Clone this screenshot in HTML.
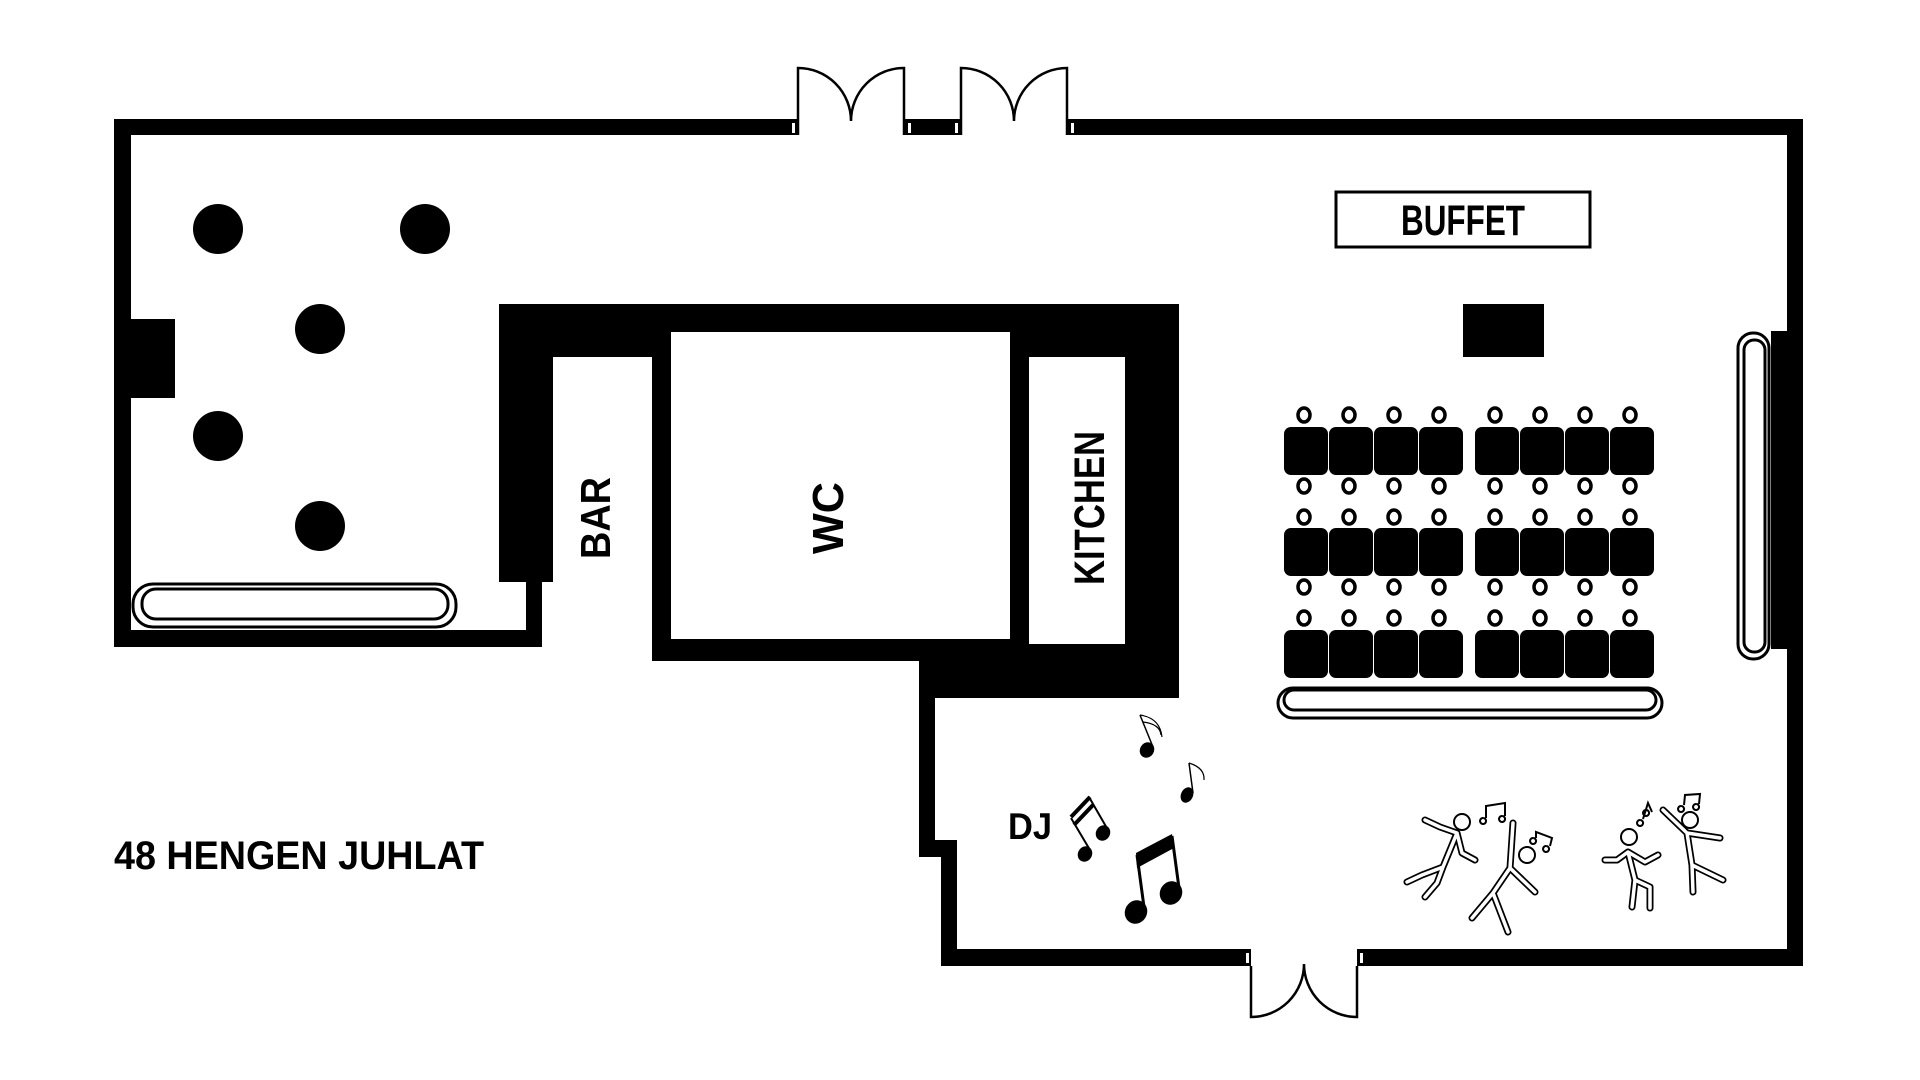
<!DOCTYPE html>
<html><head><meta charset="utf-8"><style>html,body{margin:0;padding:0;background:#fff}svg{display:block}</style></head>
<body>
<svg width="1920" height="1080" viewBox="0 0 1920 1080" xmlns="http://www.w3.org/2000/svg" font-family="Liberation Sans, sans-serif" font-weight="bold">
<defs>
<g id="row" fill="#000">
<rect x="1284" y="0" width="44" height="48" rx="7"/><rect x="1329" y="0" width="44" height="48" rx="7"/><rect x="1374" y="0" width="44" height="48" rx="7"/><rect x="1419" y="0" width="44" height="48" rx="7"/>
<rect x="1475" y="0" width="44" height="48" rx="7"/><rect x="1520" y="0" width="44" height="48" rx="7"/><rect x="1565" y="0" width="44" height="48" rx="7"/><rect x="1610" y="0" width="44" height="48" rx="7"/>
</g>
<g id="chairs" fill="none" stroke="#000" stroke-width="3.5">
<ellipse cx="1304" cy="0" rx="6" ry="7"/><ellipse cx="1349" cy="0" rx="6" ry="7"/><ellipse cx="1394" cy="0" rx="6" ry="7"/><ellipse cx="1439" cy="0" rx="6" ry="7"/>
<ellipse cx="1495" cy="0" rx="6" ry="7"/><ellipse cx="1540" cy="0" rx="6" ry="7"/><ellipse cx="1585" cy="0" rx="6" ry="7"/><ellipse cx="1630" cy="0" rx="6" ry="7"/>
</g>
<path id="dancers" fill="none" stroke-linecap="round" stroke-linejoin="round" d="M1425,820 L1440,827 L1457,833 L1462,853 L1475,860 M1457,833 L1443,867 L1422,875 L1407,882 M1443,867 L1437,883 L1425,897 M1513,823 L1510,868 L1535,892 M1510,868 L1493,893 L1472,918 M1493,893 L1508,932 M1605,860 L1617,860 L1628,852 L1645,862 L1658,855 M1628,852 L1635,880 L1632,907 M1635,880 L1650,887 L1650,908 M1663,810 L1687,833 L1720,838 M1687,833 L1692,865 L1693,892 M1692,865 L1723,880"/>
</defs>
<rect width="1920" height="1080" fill="#fff"/>
<g fill="#000">
<rect x="114" y="119" width="652" height="16"/>
<rect x="1096" y="119" width="707" height="16"/>
<rect x="766" y="119" width="32" height="16"/><rect x="904" y="119" width="57" height="16"/><rect x="1067" y="119" width="29" height="16"/>
<rect x="114" y="119" width="17" height="528"/>
<rect x="131" y="319" width="44" height="79"/>
<rect x="114" y="630" width="428" height="17"/>
<rect x="526" y="582" width="16" height="65"/>
<rect x="1787" y="119" width="16" height="847"/>
<rect x="1771" y="331" width="16" height="318"/>
<rect x="941" y="949" width="281" height="17"/>
<rect x="1388" y="949" width="415" height="17"/>
<rect x="1222" y="949" width="29" height="17"/><rect x="1357" y="949" width="31" height="17"/>
<rect x="919" y="682" width="16" height="175"/>
<rect x="919" y="840" width="38" height="17"/>
<rect x="941" y="840" width="16" height="126"/>
<rect x="499" y="304" width="680" height="53"/>
<rect x="499" y="304" width="54" height="278"/>
<rect x="652" y="304" width="527" height="357"/>
<rect x="919" y="650" width="260" height="48"/>
</g>
<g fill="#fff">
<rect x="671" y="332" width="339" height="307"/>
<rect x="1029" y="357" width="96" height="287"/>
<rect x="792" y="123" width="3" height="10"/><rect x="908" y="123" width="3" height="10"/><rect x="955" y="123" width="3" height="10"/><rect x="1071" y="123" width="3" height="10"/>
<rect x="1246" y="953" width="3" height="10"/><rect x="1360" y="953" width="3" height="10"/>
</g>
<g fill="none" stroke="#000" stroke-width="2.5">
<path d="M798,135 V68 A53,53 0 0 1 851,121 A53,53 0 0 1 904,68 V135"/>
<path d="M961,135 V68 A53,53 0 0 1 1014,121 A53,53 0 0 1 1067,68 V135"/>
<path d="M1251,966 V1017 A53,53 0 0 0 1304,964 A53,53 0 0 0 1357,1017 V966"/>
</g>
<g fill="#000">
<circle cx="218" cy="229" r="25"/><circle cx="425" cy="229" r="25"/><circle cx="320" cy="329" r="25"/><circle cx="218" cy="436" r="25"/><circle cx="320" cy="526" r="25"/>
</g>
<g fill="none" stroke="#000" stroke-width="3">
<rect x="133" y="584" width="323" height="43" rx="20"/><rect x="142" y="589" width="306" height="30" rx="14"/>
<rect x="1278" y="688" width="384" height="30" rx="15"/><rect x="1284" y="690" width="372" height="20" rx="10"/>
<rect x="1738" y="333" width="31" height="326" rx="15"/><rect x="1744" y="340" width="21" height="312" rx="10"/>
<rect x="1336" y="192" width="254" height="55"/>
</g>
<rect x="1463" y="304" width="81" height="53" fill="#000"/>
<use href="#row" y="427"/><use href="#row" y="528"/><use href="#row" y="630"/>
<use href="#chairs" y="415"/><use href="#chairs" y="486"/><use href="#chairs" y="517"/><use href="#chairs" y="587"/><use href="#chairs" y="618"/>
<g fill="#000">
<text x="1463" y="235" font-size="43" text-anchor="middle" textLength="124" lengthAdjust="spacingAndGlyphs">BUFFET</text>
<text transform="translate(610,518) rotate(-90)" font-size="42" text-anchor="middle" textLength="82" lengthAdjust="spacingAndGlyphs">BAR</text>
<text transform="translate(843,518) rotate(-90)" font-size="44" text-anchor="middle" textLength="72" lengthAdjust="spacingAndGlyphs">WC</text>
<text transform="translate(1104,508) rotate(-90)" font-size="43" text-anchor="middle" textLength="154" lengthAdjust="spacingAndGlyphs">KITCHEN</text>
<text x="1008" y="839" font-size="37" textLength="44" lengthAdjust="spacingAndGlyphs">DJ</text>
<text x="114" y="869" font-size="40" textLength="370" lengthAdjust="spacingAndGlyphs">48 HENGEN JUHLAT</text>
</g>
<g fill="#000" stroke="#000">
<ellipse cx="1136" cy="912" rx="11" ry="12" transform="rotate(30 1136 912)" stroke="none"/>
<ellipse cx="1171" cy="893" rx="11" ry="12" transform="rotate(30 1171 893)" stroke="none"/>
<line x1="1144" y1="907" x2="1137" y2="855" stroke-width="3"/>
<line x1="1179" y1="888" x2="1172" y2="836" stroke-width="3"/>
<polygon points="1136,853 1172,834 1174,848 1137,868" stroke="none"/>
<ellipse cx="1085" cy="854" rx="7" ry="8" transform="rotate(30 1085 854)" stroke="none"/>
<ellipse cx="1103" cy="833" rx="7" ry="8" transform="rotate(30 1103 833)" stroke="none"/>
<line x1="1090" y1="850" x2="1071" y2="818" stroke-width="2"/>
<line x1="1108" y1="830" x2="1089" y2="797" stroke-width="2"/>
<line x1="1071" y1="817" x2="1090" y2="797" stroke-width="4"/>
<line x1="1074" y1="825" x2="1093" y2="805" stroke-width="4"/>
<ellipse cx="1147" cy="750" rx="7" ry="8" transform="rotate(30 1147 750)" stroke="none"/>
<line x1="1153" y1="747" x2="1140" y2="715" stroke-width="1.5"/>
<path d="M1140,715 Q1160,718 1162,737 M1143,722 Q1160,724 1161,735" fill="none" stroke-width="1.2"/>
<ellipse cx="1187" cy="795" rx="6" ry="8" transform="rotate(25 1187 795)" stroke="none"/>
<line x1="1193" y1="793" x2="1189" y2="763" stroke-width="1.5"/>
<path d="M1189,763 Q1205,768 1204,780" fill="none" stroke-width="1.2"/>
</g>
<use href="#dancers" stroke="#000" stroke-width="7"/>
<use href="#dancers" stroke="#fff" stroke-width="3.5"/>
<g fill="#fff" stroke="#000" stroke-width="2">
<circle cx="1462" cy="822" r="8"/><circle cx="1527" cy="855" r="8"/><circle cx="1629" cy="837" r="8"/><circle cx="1690" cy="820" r="8"/>
</g>
<g fill="none" stroke="#000" stroke-width="2">
<path d="M1483,818 a3,3 0 1 0 0.1,0 M1486,818 V806 L1505,803 V816 M1502,816 a3,3 0 1 0 0.1,0"/>
<path d="M1533,838 a3,3 0 1 0 0.1,0 M1536,838 V832 L1552,838 L1550,846 M1546,846 a3,3 0 1 0 0.1,0"/>
<path d="M1640,820 a3,3 0 1 0 0.1,0 M1643,819 L1648,803 L1652,812 M1646,810 a3,3 0 1 0 0.1,0"/>
<path d="M1681,806 a3,3 0 1 0 0.1,0 M1684,805 L1685,795 L1700,794 L1699,804 M1696,804 a3,3 0 1 0 0.1,0"/>
</g>
</svg>
</body></html>
